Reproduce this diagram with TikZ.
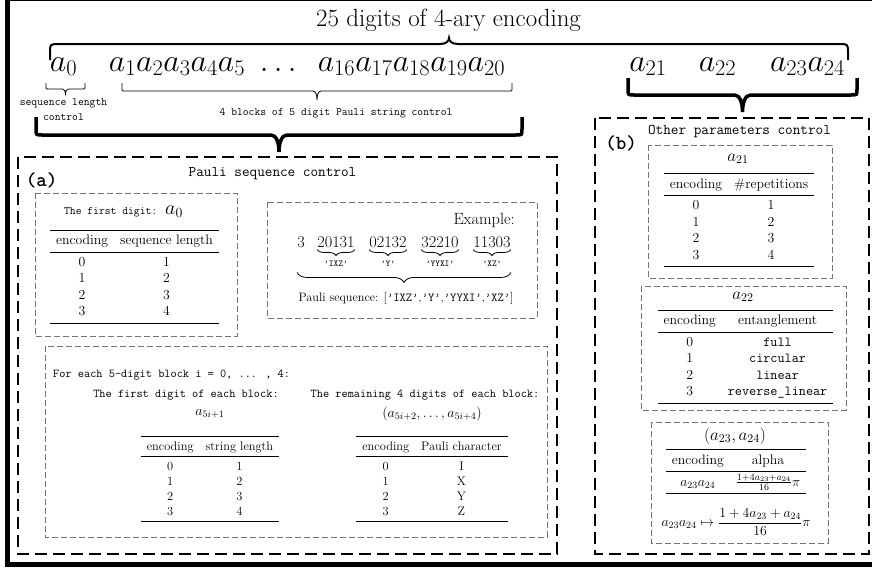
\RequirePackage{fix-cm}
\documentclass[tikz,border=0pt]{standalone}
\usepackage{amsmath}
\usepackage{booktabs}
\usetikzlibrary{decorations.pathreplacing}
\newcommand{\mybrace}[8][]{%
 \pgfmathsetmacro{\bmidx}{(#2+#3)/2}%
 \pgfmathsetmacro{\bhalf}{(#5+#6)/2}%
 \pgfmathsetmacro{\bsg}{(#5>#4)?1:-1}%
 \draw[#1] (#2,#4) -- ({#2},{#5-(\bsg)*#7}) .. controls ({#2},{#5}) .. ({#2+#7},{#5}) -- ({\bmidx-#8},{#5}) .. controls ({\bmidx-0.3*#8},{#5}) and ({\bmidx},{\bhalf}) .. ({\bmidx},{#6}) .. controls ({\bmidx},{\bhalf}) and ({\bmidx+0.3*#8},{#5}) .. ({\bmidx+#8},{#5}) -- ({#3-#7},{#5}) .. controls ({#3},{#5}) .. ({#3},{#5-(\bsg)*#7}) -- (#3,#4);
}
\tikzset{
 titlef/.style={font=\fontsize{24.88}{30}\selectfont},
 amath/.style={font=\fontsize{32}{38}\selectfont, anchor=base, inner sep=0pt},
 smtt/.style={font=\fontsize{11.3}{15}\selectfont\ttfamily, inner sep=0pt},
 btt/.style={font=\fontsize{12}{14}\selectfont\ttfamily, inner sep=0pt},
 ptitle/.style={font=\fontsize{14.8}{17}\selectfont\ttfamily, inner sep=0pt},
 plabel/.style={font=\fontsize{20}{24}\selectfont\ttfamily\bfseries, inner sep=0pt},
 tab/.style={font=\fontsize{13.8}{16.5}\selectfont, inner sep=0pt},
 tabs/.style={font=\fontsize{12.4}{15}\selectfont, inner sep=0pt},
 hmath/.style={font=\fontsize{14}{17}\selectfont, inner sep=0pt},
 hmathb/.style={font=\fontsize{17}{20}\selectfont, inner sep=0pt},
 exf/.style={font=\fontsize{16.3}{19}\selectfont, inner sep=0pt, anchor=base},
 lab/.style={font=\fontsize{9}{11}\selectfont\ttfamily, inner sep=0pt},
 psf/.style={font=\fontsize{12.2}{14}\selectfont, inner sep=0pt},
 gbox/.style={draw=black!55, dash pattern=on 6pt off 3pt, line width=0.9pt},
 panel/.style={draw=black, dash pattern=on 12pt off 6pt, line width=2pt},
 ubr/.style={decorate, decoration={brace, mirror, amplitude=#1}, line width=0.8pt},
}
\begin{document}
\begin{tikzpicture}[x=1pt,y=-1pt]
\useasboundingbox (0,0) rectangle (872,570);
\draw[line width=5pt] (7.5,-1.5) rectangle (880,564.5);

% title and top brace
\node[titlef, anchor=base] (title) at (448.5,27) {25 digits of 4-ary encoding};
\mybrace[line width=2pt]{50}{848}{60}{44}{38}{9}{9}

% digits row
\node[amath] (a0) at (63.5,71) {$a_0$};
\node[amath] (a1) at (177,71) {$a_1a_2a_3a_4a_5$};
\node[amath] (dots) at (281,71) {$\dots$};
\node[amath] (a16) at (411.5,71) {$a_{16}a_{17}a_{18}a_{19}a_{20}$};
\node[amath] (a21) at (648,71) {$a_{21}$};
\node[amath] (a22) at (717.5,71) {$a_{22}$};
\node[amath] (a23) at (807.5,71) {$a_{23}a_{24}$};

% small braces and their texts
\mybrace[line width=0.8pt]{46}{85}{83}{89}{94}{2}{3}
\mybrace[line width=0.8pt]{122}{512}{83}{91}{100}{2}{4}
\node[smtt, align=center] (seqlen) at (63.5,109.5) {sequence length\\control};
\node[smtt] (blocks) at (336,113) {4 blocks of 5 digit Pauli string control};

% thick braces
\mybrace[line width=3.5pt]{36}{522}{117}{135}{152}{6}{8}
\mybrace[line width=3.5pt]{628}{857}{78}{95}{112}{6}{8}

% panels
\draw[panel] (18,157) rectangle (557,554);
\draw[panel] (595,118) rectangle (869,554);

% ---------- panel (a)
\node[plabel] (la) at (41.5,180) {(a)};
\node[ptitle] (pa) at (272.5,174) {Pauli sequence control};

\draw[gbox] (35,193) rectangle (237,336);
\node[inner sep=0pt] (fd) at (123.5,212) {{\fontsize{11.3}{13}\selectfont\ttfamily The first digit:}\hspace{8pt}{\fontsize{20}{24}\selectfont$a_0$}};
\node[tab] (t0) at (134.5,276.5) {\begin{tabular}{cc}\toprule
encoding & sequence length\\\midrule
0&1\\1&2\\2&3\\3&4\\\bottomrule\end{tabular}};

% example
\draw[gbox] (267,202) rectangle (537,318);
\node[exf, anchor=base east] (ex) at (515,224) {Example:};
\node[exf] (d0) at (301,247) {3};
\node[exf] (g1) at (336,247) {20131};
\node[exf] (g2) at (388,247) {02132};
\node[exf] (g3) at (440,247) {32210};
\node[exf] (g4) at (492,247) {11303};
\draw[ubr=6pt] ([yshift=-2pt]g1.south west) -- ([yshift=-2pt]g1.south east);
\draw[ubr=6pt] ([yshift=-2pt]g2.south west) -- ([yshift=-2pt]g2.south east);
\draw[ubr=6pt] ([yshift=-2pt]g3.south west) -- ([yshift=-2pt]g3.south east);
\draw[ubr=6pt] ([yshift=-2pt]g4.south west) -- ([yshift=-2pt]g4.south east);
\node[lab] (l1) at (336,264) {’IXZ’};
\node[lab] (l2) at (388,264) {’Y’};
\node[lab] (l3) at (440,264) {’YYXI’};
\node[lab] (l4) at (492,264) {’XZ’};
\draw[ubr=10pt] ([yshift=-25pt]d0.south west) -- ([yshift=-25pt]g4.south east);
\node[psf] (ps) at (406,298) {Pauli sequence: [\texttt{’IXZ’},\texttt{’Y’},\texttt{’YYXI’},\texttt{’XZ’}]};

% bottom box
\draw[gbox] (45,346) rectangle (547,537);
\node[btt, anchor=west] (fe) at (53,375) {For each 5-digit block i = 0, ... , 4:};
\node[btt] (fdb) at (186,395) {The first digit of each block:};
\node[btt] (rdb) at (425,395) {The remaining 4 digits of each block:};
\node[hmath] (h1) at (210,414) {$a_{5i+1}$};
\node[hmath] (h2) at (432,414) {$(a_{5i+2},\dots,a_{5i+4})$};
\node[tabs] (t1) at (210,479) {\begin{tabular}{cc}\toprule
encoding & string length\\\midrule
0&1\\1&2\\2&3\\3&4\\\bottomrule\end{tabular}};
\node[tabs] (t2) at (432,479) {\begin{tabular}{cc}\toprule
encoding & Pauli character\\\midrule
0&I\\1&X\\2&Y\\3&Z\\\bottomrule\end{tabular}};

% ---------- panel (b)
\node[plabel] (lb) at (621,143) {(b)};
\node[ptitle] (pb) at (739.5,132) {Other parameters control};

\draw[gbox] (648,145) rectangle (832,278);
\node[hmathb] (h21) at (738,159) {$a_{21}$};
\node[tab] (t21) at (739,220) {\begin{tabular}{cc}\toprule
encoding & \#repetitions\\\midrule
0&1\\1&2\\2&3\\3&4\\\bottomrule\end{tabular}};

\draw[gbox] (641,286) rectangle (846,410);
\node[hmathb] (h22) at (743,297) {$a_{22}$};
\node[tab] (t22) at (745.5,356.5) {\begin{tabular}{cc}\toprule
encoding & entanglement\\\midrule
0&\texttt{full}\\1&\texttt{circular}\\2&\texttt{linear}\\3&\texttt{reverse\_linear}\\\bottomrule\end{tabular}};

\draw[gbox] (651,422) rectangle (828,543);
\node[hmathb] (h23) at (735,436) {$(a_{23},a_{24})$};
\node[tab] (t23) at (736,471.5) {\begin{tabular}{cc}\toprule
encoding & alpha\\\midrule
$a_{23}a_{24}$ & $\frac{1+4a_{23}+a_{24}}{16}\pi$\\\bottomrule\end{tabular}};
\node[tab] (f23) at (736,522) {$a_{23}a_{24}\mapsto\dfrac{1+4a_{23}+a_{24}}{16}\pi$};
\end{tikzpicture}
\end{document}
